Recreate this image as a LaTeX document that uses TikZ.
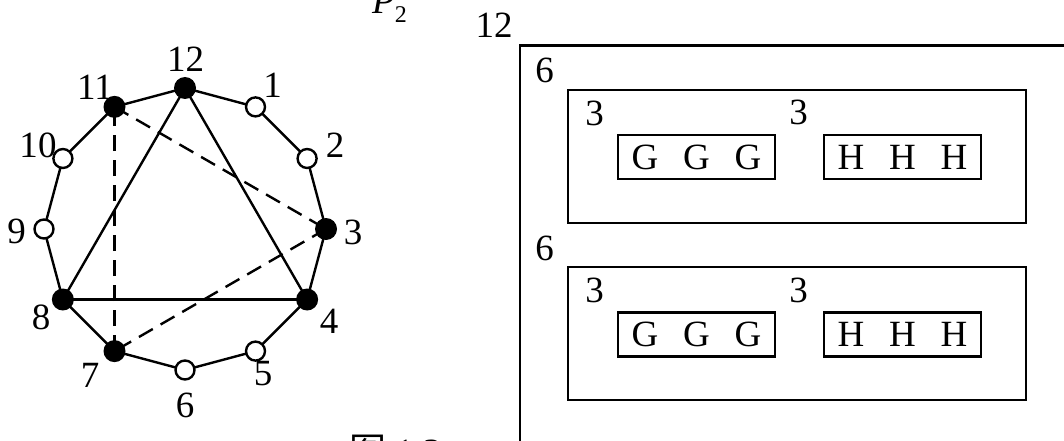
\documentclass[tikz,border=0pt]{standalone}
\usepackage{fontspec}
\setmainfont{Liberation Serif}
\newfontfamily\cjkfont{Noto Sans CJK SC}
\begin{document}
\begin{tikzpicture}[x=1pt,y=-1pt,
  lbl/.style={font=\fontsize{37}{44}\selectfont, inner sep=0pt},
  fillv/.style={circle, fill=black, inner sep=0pt, minimum size=22pt},
  openv/.style={circle, draw=black, fill=white, line width=2.4pt, inner sep=0pt, minimum size=19pt},
  edge/.style={line width=2.4pt},
  dedge/.style={line width=2.4pt, dash pattern=on 16pt off 9pt},
  frame/.style={line width=2.4pt},
  bigbox/.style={draw, line width=2.4pt, minimum width=458pt, minimum height=132.7pt, inner sep=0pt},
  letterbox/.style={draw, line width=2.2pt, minimum width=157pt, minimum height=44pt, inner sep=0pt, font=\fontsize{37}{44}\selectfont}
]
\useasboundingbox (0,0) rectangle (1064,441);

% polygon vertices
\foreach \k in {1,...,12}{
  \coordinate (p\k) at ({185+141*cos(90-30*\k)}, {229-141*sin(90-30*\k)});
}
% edges first (drawn under vertices)
\foreach \a/\b in {1/2,2/3,3/4,4/5,5/6,6/7,7/8,8/9,9/10,10/11,11/12,12/1}{
  \draw[edge] (p\a) -- (p\b);
}
\draw[edge] (p12) -- (p8);
\draw[edge] (p12) -- (p4);
\draw[edge] (p8) -- (p4);
\draw[dedge] (p11) -- (p3);
\draw[dedge] (p3) -- (p7);
\draw[dedge] (p7) -- (p11);

\foreach \k in {3,4,7,8,11,12}{ \node[fillv] (v\k) at (p\k) {}; }
\foreach \k in {1,2,5,6,9,10}{ \node[openv] (v\k) at (p\k) {}; }

% vertex labels
\node[lbl] (l12) at (185.7,59.2) {12};
\node[lbl] (l1) at (272.5,85) {1};
\node[lbl] (l11) at (95,87.5) {11};
\node[lbl] (l10) at (38,145) {10};
\node[lbl] (l2) at (335,145) {2};
\node[lbl] (l9) at (16.7,231) {9};
\node[lbl] (l3) at (353,232) {3};
\node[lbl] (l8) at (41,317.5) {8};
\node[lbl] (l4) at (329,321.7) {4};
\node[lbl] (l7) at (90,375) {7};
\node[lbl] (l5) at (263,374) {5};
\node[lbl] (l6) at (185,405) {6};

% P2 title (cut at top)
\node[lbl, anchor=base west] (ptitle) at (372,14) {\itshape P\upshape\raisebox{-9pt}{\fontsize{24}{24}\selectfont 2}};

% caption (cut at bottom)
\node[lbl, anchor=base west] (cap) at (349,464) {{\cjkfont 图} 1.3};

% right panel
\coordinate (fb) at (520,448);
\coordinate (ftl) at (520,45.7);
\coordinate (fr) at (1070,45.7);
\draw[frame] (fb) -- (ftl) -- (fr);
\node[lbl] (n12) at (494,25) {12};

\node[bigbox] (b1) at (797,156.35) {};
\node[bigbox] (b2) at (797,333.35) {};
\node[lbl] (s1) at (544.5,70.7) {6};
\node[lbl] (s2) at (544.5,248) {6};
\node[lbl] (t1) at (594.5,113) {3};
\node[lbl] (t2) at (798.7,112.5) {3};
\node[lbl] (t3) at (594.5,290) {3};
\node[lbl] (t4) at (798.7,290) {3};

\node[letterbox] (g1) at (696.5,157) {G\hspace{24.8pt}G\hspace{24.8pt}G};
\node[letterbox] (h1) at (902.5,157) {H\hspace{24.8pt}H\hspace{24.8pt}H};
\node[letterbox] (g2) at (696.5,334.5) {G\hspace{24.8pt}G\hspace{24.8pt}G};
\node[letterbox] (h2) at (902.5,334.5) {H\hspace{24.8pt}H\hspace{24.8pt}H};
\end{tikzpicture}
\end{document}
